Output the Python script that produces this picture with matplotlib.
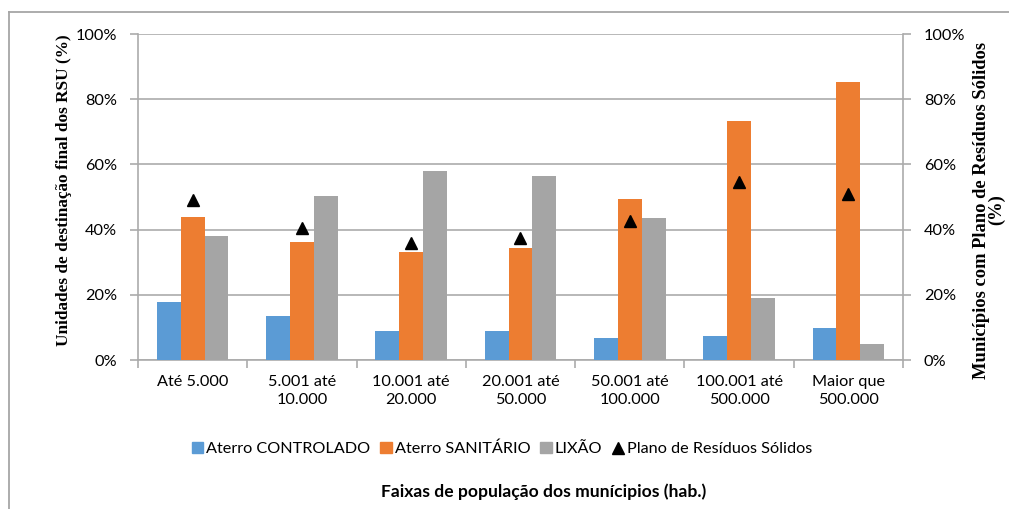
import matplotlib
matplotlib.use("Agg")
import matplotlib.pyplot as plt
from matplotlib.patches import Patch
from matplotlib.lines import Line2D
import numpy as np

categories = ["Até 5.000", "5.001 até\n10.000", "10.001 até\n20.000", "20.001 até\n50.000",
              "50.001 até\n100.000", "100.001 até\n500.000", "Maior que\n500.000"]
controlado = [17.9, 13.4, 8.8, 8.9, 6.8, 7.5, 9.7]
sanitario = [43.8, 36.1, 33.1, 34.4, 49.5, 73.4, 85.4]
lixao = [38.0, 50.3, 58.0, 56.5, 43.5, 18.9, 4.9]
plano = [49.1, 40.6, 35.8, 37.3, 42.5, 54.5, 51.0]
yticks = [0, 20, 40, 60, 80, 100]
series_names = ["Aterro CONTROLADO", "Aterro SANITÁRIO", "LIXÃO", "Plano de Resíduos Sólidos"]

c_blue = "#5B9BD5"
c_orange = "#ED7D31"
c_gray = "#A5A5A5"
grid_c = "#ABABAB"
tick_font = "Lato"
fs = 11.7

W, H = 1009, 509
fig = plt.figure(figsize=(W / 100, H / 100), dpi=100)

# outer chart frame (left and top visible)
fig.add_artist(Line2D([9 / W, 9 / W], [0, 1 - 12 / H], transform=fig.transFigure, color="#A6A6A6", lw=1.3))
fig.add_artist(Line2D([9 / W, 1.0], [1 - 12 / H, 1 - 12 / H], transform=fig.transFigure, color="#A6A6A6", lw=1.3))

ax = fig.add_axes([138 / W, 149 / H, 765 / W, 326 / H])
x = np.arange(len(categories))
bw = 0.218
ax.bar(x - bw, controlado, bw, color=c_blue, zorder=3)
ax.bar(x, sanitario, bw, color=c_orange, zorder=3)
ax.bar(x + bw, lixao, bw, color=c_gray, zorder=3)
ax.set_xlim(-0.5, len(categories) - 0.5)
ax.set_ylim(0, 100)
ax.set_yticks(yticks)
ax.set_yticklabels([f"{v}%" for v in yticks], fontfamily=tick_font, fontsize=fs)
ax.yaxis.grid(True, color=grid_c, lw=1.2, zorder=0)
ax.set_xticks(x)
ax.set_xticklabels(categories, fontfamily=tick_font, fontsize=fs, linespacing=1.35)
ax.set_xticks(np.arange(-0.5, len(categories)), minor=True)
ax.tick_params(axis="x", which="major", length=0, pad=11)
ax.tick_params(axis="x", which="minor", length=6, color=grid_c, width=1.2)
ax.tick_params(axis="y", length=6, color=grid_c, width=1.2, pad=9)
for s in ["top", "right"]:
    ax.spines[s].set_visible(False)
for s in ["left", "bottom"]:
    ax.spines[s].set_color(grid_c)
    ax.spines[s].set_linewidth(1.2)
ax.set_ylabel("Unidades de destinação final dos RSU (%)", fontfamily="Liberation Serif",
              fontweight="bold", fontsize=12.4)
ax.yaxis.set_label_coords(-66 / 765, 0.52)

ax2 = ax.twinx()
ax2.plot(x, plano, linestyle="none", marker="^", color="black", markersize=9, zorder=5)
ax2.set_ylim(0, 100)
ax2.set_yticks(yticks)
ax2.set_yticklabels([f"{v}%" for v in yticks], fontfamily=tick_font, fontsize=fs)
ax2.tick_params(axis="y", length=6, color=grid_c, width=1.2, pad=9)
for s in ["top", "left", "bottom"]:
    ax2.spines[s].set_visible(False)
ax2.spines["right"].set_color(grid_c)
ax2.spines["right"].set_linewidth(1.2)
ax2.set_ylabel("Municípios com Plano de Resíduos Sólidos\n(%)", fontfamily="Liberation Serif",
               fontweight="bold", fontsize=13.3, linespacing=0.85)
ax2.yaxis.set_label_coords(1 + 70 / 765, 0.46)

handles = [Patch(color=c_blue), Patch(color=c_orange), Patch(color=c_gray),
           Line2D([], [], linestyle="none", marker="^", color="black", markersize=9)]
fig.legend(handles, series_names, loc="center", bbox_to_anchor=(502 / W, 1 - 449 / H),
           ncol=4, frameon=False, prop={"family": tick_font, "size": fs},
           handlelength=0.7, handleheight=0.7, handletextpad=0.2, columnspacing=0.6)

fig.text(544 / W, 1 - 492 / H, "Faixas de população dos munícipios (hab.)", ha="center", va="center",
         fontfamily=tick_font, fontweight="bold", fontsize=12.6)

fig.savefig("out.png", dpi=100)
